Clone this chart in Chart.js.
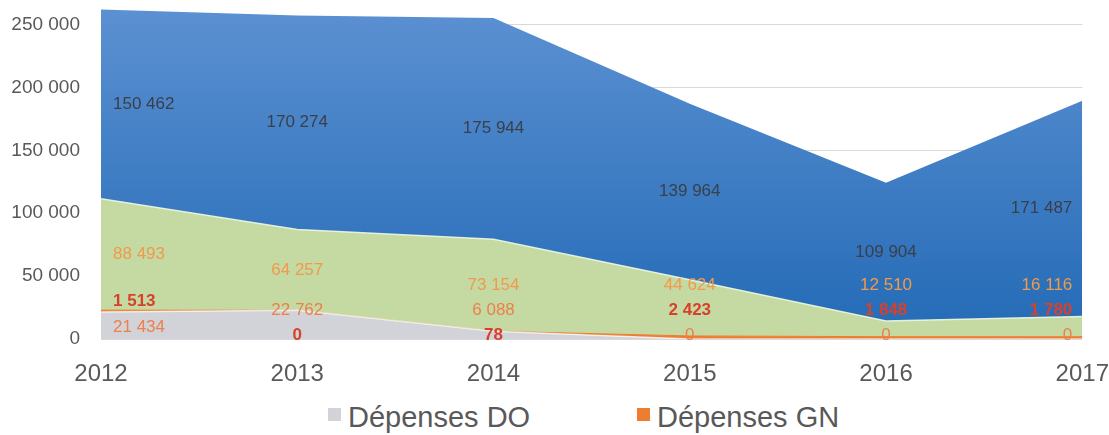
<!DOCTYPE html>
<html>
<head>
<meta charset="utf-8">
<script src="https://cdn.jsdelivr.net/npm/chart.js@4.4.1/dist/chart.umd.min.js"></script>
<style>
  html, body { margin: 0; padding: 0; background: #ffffff; }
  #wrap { position: relative; width: 1109px; height: 435px; font-family: "Liberation Sans", Arial, sans-serif; }
  #chartBox { position: absolute; left: 0; top: 0; width: 1109px; height: 391px; }
  #legend { position: absolute; left: 0; top: 396px; width: 1109px; height: 42px; }
  .item { position: absolute; top: 0; height: 42px; display: flex; align-items: center; font-size: 29px; color: #595959; white-space: nowrap; }
  .box { width: 13px; height: 13px; margin-right: 7px; margin-top: -6px; }
</style>
</head>
<body>
<div id="wrap">
  <div id="chartBox"><canvas id="c" width="1109" height="391"></canvas></div>
  <div id="legend"></div>
</div>
<script>
// ---- Data ----
const years = ["2012", "2013", "2014", "2015", "2016", "2017"];
const depensesDO = [21434, 22762, 6088, 0, 0, 0];
const depensesGN = [1513, 0, 78, 2423, 1848, 1780];
const serieVerte = [88493, 64257, 73154, 44624, 12510, 16116];
const serieBleue = [150462, 170274, 175944, 139964, 109904, 171487];
const yTicks = [0, 50000, 100000, 150000, 200000, 250000];
const legendLabels = ["Dépenses DO", "Dépenses GN"];

const fmt = v => String(v).replace(/\B(?=(\d{3})+(?!\d))/g, " ");

const FONT = "'Liberation Sans', Arial, sans-serif";
const labelStyle = [
  { color: "#ec7f4c", font: "normal 17px " + FONT },
  { color: "#d8402c", font: "bold 17px " + FONT },
  { color: "#f09a4c", font: "normal 17px " + FONT },
  { color: "#3a3f48", font: "normal 17px " + FONT }
];

const dataLabels = {
  id: "dataLabels",
  afterDatasetsDraw(chart) {
    const ctx = chart.ctx;
    const ys = chart.scales.y;
    const xs = chart.scales.x;
    const ds = chart.data.datasets;
    const n = chart.data.labels.length;
    const y0 = ys.getPixelForValue(0);
    ctx.save();
    ctx.textBaseline = "middle";
    for (let i = 0; i < n; i++) {
      const vals = ds.map(d => d.data[i]);
      const bottoms = [];
      let cum = 0;
      vals.forEach(v => { bottoms.push(cum); cum += v; });
      const centers = vals.map((v, k) => ys.getPixelForValue(bottoms[k] + v / 2));
      const pos = centers.slice();
      // two thin bottom series: smaller value label at the base, the other just above it
      const small = vals[0] <= vals[1] && i > 0 ? 0 : 1;
      const other = 1 - small;
      pos[small] = y0 - 4;
      pos[other] = y0 - 29;
      if (i === 0) { pos[0] = y0 - 12; pos[1] = y0 - 38; }
      pos[2] = Math.min(centers[2], pos[other] - 25);
      pos[3] = centers[3];
      let x = xs.getPixelForValue(i);
      let align = "center";
      if (i === 0) { align = "left"; x += 12; }
      if (i === n - 1) { align = "right"; x -= 10; }
      ctx.textAlign = align;
      for (let k = 0; k < ds.length; k++) {
        ctx.fillStyle = labelStyle[k].color;
        ctx.font = labelStyle[k].font;
        ctx.fillText(fmt(vals[k]), x, pos[k]);
      }
    }
    ctx.restore();
  }
};

function blueGradient(context) {
  const chart = context.chart;
  const area = chart.chartArea;
  if (!area) return "#3f7fc6";
  const g = chart.ctx.createLinearGradient(0, area.top, 0, area.bottom);
  g.addColorStop(0, "#5c91d2");
  g.addColorStop(1, "#236ab6");
  return g;
}

const chart = new Chart(document.getElementById("c"), {
  type: "line",
  data: {
    labels: years,
    datasets: [
      { label: legendLabels[0], data: depensesDO, fill: "origin", backgroundColor: "#d1d3d9", borderColor: "rgba(255,255,255,0.7)", borderWidth: 1.5, pointRadius: 0, tension: 0 },
      { label: legendLabels[1], data: depensesGN, fill: "-1", backgroundColor: "#ED7D31", borderColor: "#ED7D31", borderWidth: 1, pointRadius: 0, tension: 0 },
      { label: "", data: serieVerte, fill: "-1", backgroundColor: "#c5daa2", borderColor: "rgba(235,245,225,0.9)", borderWidth: 1.5, pointRadius: 0, tension: 0 },
      { label: "", data: serieBleue, fill: "-1", backgroundColor: blueGradient, borderColor: "rgba(0,0,0,0)", borderWidth: 0, pointRadius: 0, tension: 0 }
    ]
  },
  options: {
    responsive: false,
    animation: false,
    devicePixelRatio: 1,
    layout: { padding: { top: 5, right: 26, left: 0, bottom: 0 } },
    plugins: { legend: { display: false }, tooltip: { enabled: false } },
    scales: {
      x: {
        offset: false,
        grid: { display: true, drawOnChartArea: false, drawTicks: true, tickLength: 21, tickColor: "rgba(0,0,0,0)" },
        border: { display: false },
        ticks: { color: "#595959", font: { size: 24, family: FONT }, padding: 0, maxRotation: 0, autoSkip: false },
        afterFit(scale) { scale.height = 52; }
      },
      y: {
        stacked: true,
        min: 0,
        max: 265000,
        afterBuildTicks(scale) { scale.ticks = yTicks.map(v => ({ value: v })); },
        grid: { color: "#d9d9d9", lineWidth: 1, drawTicks: true, tickLength: 21, tickColor: "rgba(0,0,0,0)" },
        border: { display: false },
        ticks: { color: "#595959", font: { size: 19, family: FONT, lineHeight: 0.6 }, padding: 0, callback: v => fmt(v) },
        afterFit(scale) { scale.width = 101; }
      }
    }
  },
  plugins: [dataLabels]
});

// HTML legend built from the chart's datasets
const legendColors = ["#d1d3d9", "#ED7D31"];
const legendLeft = [328, 637];
const lg = document.getElementById("legend");
legendLabels.forEach((t, k) => {
  const it = document.createElement("div");
  it.className = "item";
  it.style.left = legendLeft[k] + "px";
  const b = document.createElement("span");
  b.className = "box";
  b.style.background = legendColors[k];
  const s = document.createElement("span");
  s.textContent = t;
  it.appendChild(b); it.appendChild(s);
  lg.appendChild(it);
});
</script>
</body>
</html>
